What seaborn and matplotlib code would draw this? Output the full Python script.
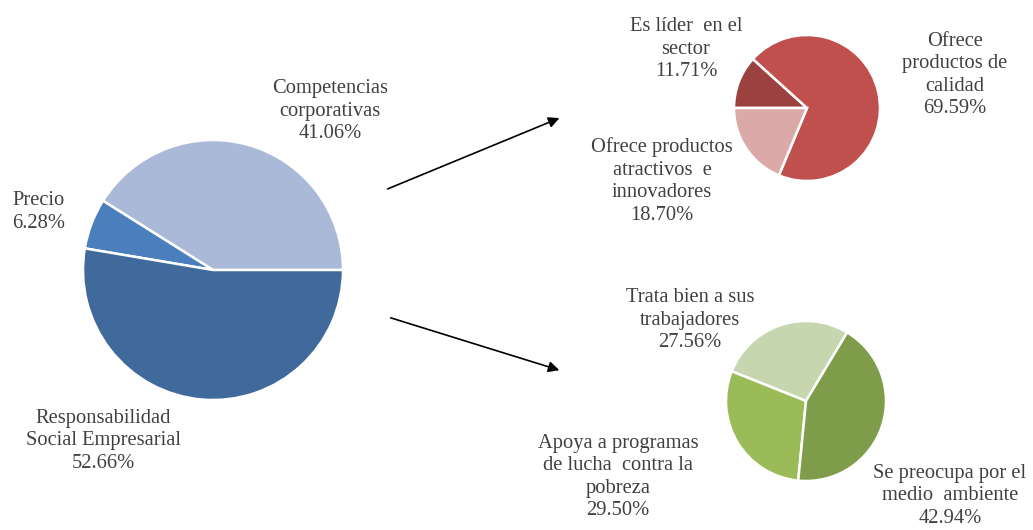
import matplotlib
matplotlib.use("Agg")
import matplotlib.pyplot as plt
import seaborn as sns

# main pie
main_labels = ["Competencias\ncorporativas", "Precio", "Responsabilidad\nSocial Empresarial"]
main_values = [41.06, 6.28, 52.66]
main_colors = ["#A9B9D7", "#4B7EBC", "#3F6A9B"]

# top-right pie
top_labels = ["Es líder  en el\nsector", "Ofrece\nproductos de\ncalidad", "Ofrece productos\natractivos  e\ninnovadores"]
top_values = [11.71, 69.59, 18.70]
top_colors = ["#9B4140", "#C0504D", "#DAA9A8"]

# bottom-right pie
bot_labels = ["Trata bien a sus\ntrabajadores", "Apoya a programas\nde lucha  contra la\npobreza", "Se preocupa por el\nmedio  ambiente"]
bot_values = [27.56, 29.50, 42.94]
bot_colors = ["#C6D6AF", "#9BBB59", "#7F9C4A"]

sns.set_theme(style="white")
plt.rcParams['font.family'] = ['Liberation Serif', 'DejaVu Serif']

W, H = 1033, 530
fig = plt.figure(figsize=(W / 100, H / 100), dpi=100)

def px_axes(cx, cy, r):
    ax = fig.add_axes([(cx - r) / W, (H - cy - r) / H, 2 * r / W, 2 * r / H])
    return ax

def px_text(x, y, s):
    fig.text(x / W, 1 - y / H, s, ha="center", va="center", fontsize=14.8,
             color="#404040", linespacing=1.25)

def draw_pie(ax, values, colors, start, counterclock):
    ax.pie(values, colors=colors, startangle=start, counterclock=counterclock,
           wedgeprops=dict(edgecolor="white", linewidth=1.8))
    ax.set_xlim(-1, 1)
    ax.set_ylim(-1, 1)
    ax.set_aspect("equal")
    ax.axis("off")

ax_main = px_axes(213, 270, 130)
draw_pie(ax_main, main_values, main_colors, 0, True)

ax_top = px_axes(807, 108, 73)
draw_pie(ax_top, top_values, top_colors, 180, False)

ax_bot = px_axes(806, 401, 80)
draw_pie(ax_bot, bot_values, bot_colors, 59, True)

# labels
for lab, v, pos in zip(main_labels, main_values, [(330, 111), (39, 212), (103, 441)]):
    px_text(pos[0], pos[1], f"{lab}\n{v:.2f}%")
for lab, v, pos in zip(top_labels, top_values, [(686, 49), (955, 75), (662, 181)]):
    px_text(pos[0], pos[1], f"{lab}\n{v:.2f}%")
for lab, v, pos in zip(bot_labels, bot_values, [(690, 320), (618, 477), (950, 496)]):
    px_text(pos[0], pos[1], f"{lab}\n{v:.2f}%")

# arrows
arrow_kw = dict(arrowstyle="-|>", color="black", lw=1.2, mutation_scale=16)
fig.add_artist(matplotlib.patches.FancyArrowPatch((385 / W, 1 - 190 / H), (562 / W, 1 - 117 / H),
                                                  transform=fig.transFigure, **arrow_kw))
fig.add_artist(matplotlib.patches.FancyArrowPatch((388 / W, 1 - 317 / H), (562 / W, 1 - 371 / H),
                                                  transform=fig.transFigure, **arrow_kw))

fig.savefig("out.png", dpi=100, facecolor="white")
